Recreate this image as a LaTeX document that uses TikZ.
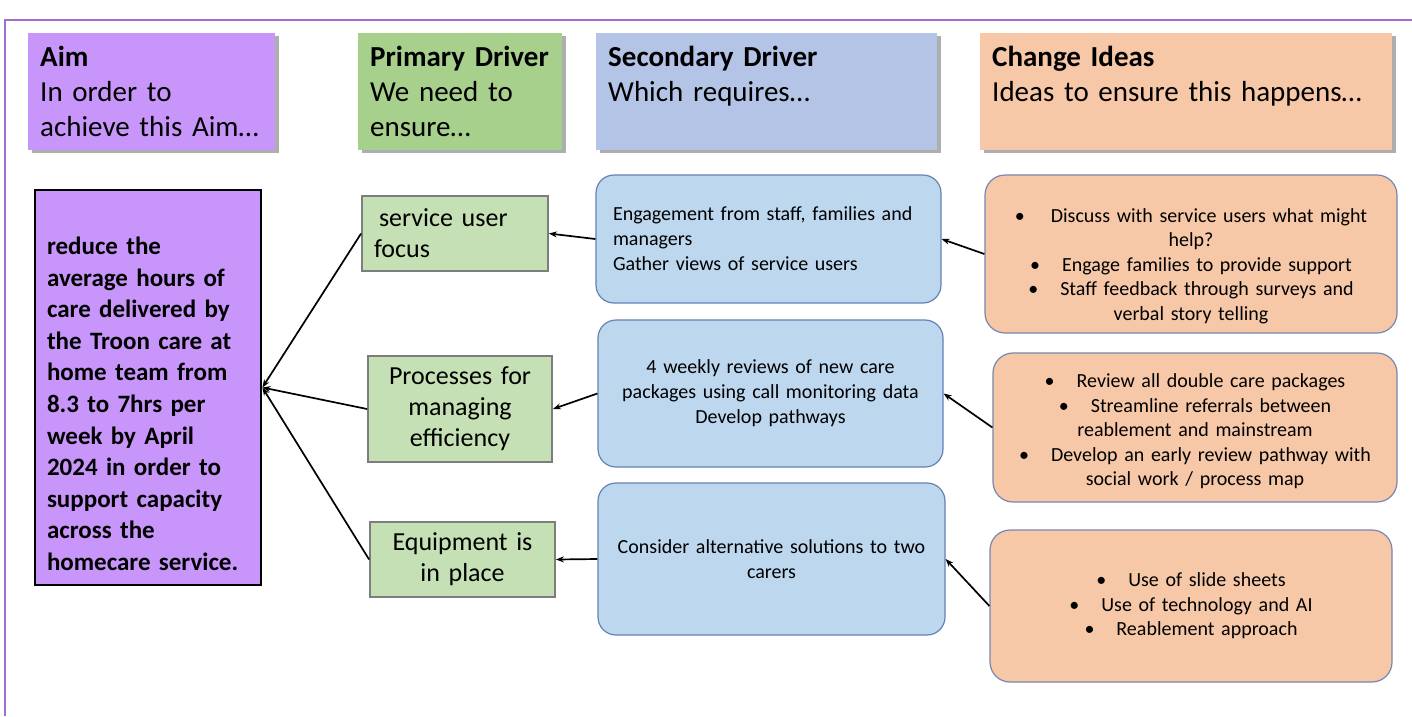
\documentclass[tikz,border=0pt]{standalone}
\usepackage{fontspec}
\setmainfont{Carlito}
\usetikzlibrary{arrows.meta,shadows}
\hyphenpenalty=10000
\definecolor{framecol}{RGB}{160,110,210}
\definecolor{aimfill}{RGB}{200,150,250}
\definecolor{primhead}{RGB}{168,208,141}
\definecolor{primfill}{RGB}{197,224,180}
\definecolor{primline}{RGB}{125,125,125}
\definecolor{sechead}{RGB}{180,196,230}
\definecolor{secfill}{RGB}{189,215,238}
\definecolor{secline}{RGB}{100,130,180}
\definecolor{chfill}{RGB}{246,200,168}
\definecolor{chline}{RGB}{120,135,175}
\begin{document}
\begin{tikzpicture}[x=1pt,y=-1pt,
  headbox/.style={anchor=north west, inner xsep=12pt, inner ysep=0pt, align=left,
    font=\fontsize{29}{35}\selectfont, minimum height=117pt,
    drop shadow={shadow xshift=4pt, shadow yshift=-3pt, fill=black!45, opacity=0.7}},
  aimbox/.style={draw=black, line width=2.8pt, fill=aimfill, inner xsep=12pt, align=left,
    font=\fontsize{25}{31.6}\selectfont\bfseries},
  primbox/.style={draw=primline, line width=1.8pt, fill=primfill, inner xsep=12pt, inner ysep=0pt,
    font=\fontsize{26}{31}\selectfont},
  secbox/.style={draw=secline, line width=1.2pt, fill=secfill, rounded corners=18pt,
    inner xsep=17pt, font=\fontsize{20}{25}\selectfont},
  chbox/.style={draw=chline, line width=1.2pt, fill=chfill, rounded corners=20pt,
    inner xsep=12pt, align=center, font=\fontsize{20}{24.5}\selectfont},
  arr/.style={-{Stealth[length=8pt,width=6pt]}, line width=1.7pt, draw=black}
]
\useasboundingbox (0,0) rectangle (1412,716);
\fill[white] (0,0) rectangle (1412,716);
\draw[framecol, line width=1.5pt] (5,716) -- (5,20) -- (1412,20);

% headers
\node[headbox, fill=aimfill, minimum width=247pt, text width=223pt] (aimhd) at (28,33)
  {\textbf{Aim}\\ In order to\\ achieve this Aim\ldots};
\node[headbox, fill=primhead, minimum width=204pt, text width=180pt] (primhd) at (358,33)
  {\textbf{Primary Driver}\\ We need to\\ ensure\ldots};
\node[headbox, fill=sechead, minimum width=341pt, text width=317pt] (sechd) at (596,33)
  {\textbf{Secondary Driver}\\ Which requires\ldots\\ \mbox{}};
\node[headbox, fill=chfill, minimum width=412pt, text width=388pt] (chhd) at (980,33)
  {\textbf{Change Ideas}\\ Ideas to ensure this happens\ldots\\ \mbox{}};

% aim
\node[aimbox, minimum width=226pt, minimum height=395pt, text width=202pt] (aim) at (148,387.5)
  {\rule{0pt}{50pt}reduce the\\ average hours of\\ care delivered by\\ the Troon care at\\ home team from\\ 8.3 to 7hrs per\\ week by April\\ 2024 in order to\\ support capacity\\ across the\\ homecare service.};

% primary drivers
\node[primbox, minimum width=186pt, minimum height=75pt, text width=162pt, align=left] (sfocus) at (455,233.5)
  {\hspace{5pt}service user\\ focus};
\node[primbox, minimum width=184pt, minimum height=106pt, text width=160pt, align=center] (proc) at (460,409)
  {Processes for\\ managing\\ efficiency};
\node[primbox, minimum width=185pt, minimum height=75pt, text width=161pt, align=center] (equip) at (462.5,559.5)
  {Equipment is\\ in place};

% secondary drivers
\node[secbox, minimum width=345pt, minimum height=128pt, text width=311pt, align=left] (sec1) at (768.5,239)
  {Engagement from staff, families and\\ managers\\ Gather views of service users};
\node[secbox, minimum width=345pt, minimum height=147pt, text width=311pt, align=center] (sec2) at (770.5,393.5)
  {4 weekly reviews of new care\\ packages using call monitoring data\\ Develop pathways};
\node[secbox, minimum width=347pt, minimum height=152pt, text width=313pt, align=center] (sec3) at (771.5,559)
  {Consider alternative solutions to two\\ carers};

% change ideas
\node[chbox, minimum width=412pt, minimum height=158pt, text width=388pt] (ch1) at (1191,254)
  {\rule{0pt}{38pt}\textbullet\hspace{1.3em}Discuss with service users what might\\ help?\\
   \textbullet\hspace{1.1em}Engage families to provide support\\
   \textbullet\hspace{1.1em}Staff feedback through surveys and\\ verbal story telling};
\node[chbox, minimum width=404pt, minimum height=149pt, text width=380pt] (ch2) at (1195,427.5)
  {\rule{0pt}{22pt}\textbullet\hspace{1.1em}Review all double care packages\\
   \textbullet\hspace{1.1em}Streamline referrals between\\ reablement and mainstream\\
   \textbullet\hspace{1.1em}Develop an early review pathway with\\ social work / process map};
\node[chbox, minimum width=402pt, minimum height=152pt, text width=378pt] (ch3) at (1191,606)
  {\textbullet\hspace{1.1em}Use of slide sheets\\
   \textbullet\hspace{1.1em}Use of technology and AI\\
   \textbullet\hspace{1.1em}Reablement approach};

% connectors
\draw[arr] (sfocus.west) -- (aim.east);
\draw[arr] (proc.west) -- (aim.east);
\draw[arr] (equip.west) -- (aim.east);
\draw[arr] (sec1.west) -- (sfocus.east);
\draw[arr] (sec2.west) -- (proc.east);
\draw[arr] (sec3.west) -- (equip.east);
\draw[arr] (ch1.west) -- (sec1.east);
\draw[arr] (ch2.west) -- (sec2.east);
\draw[arr] (ch3.west) -- (sec3.east);
\end{tikzpicture}
\end{document}
